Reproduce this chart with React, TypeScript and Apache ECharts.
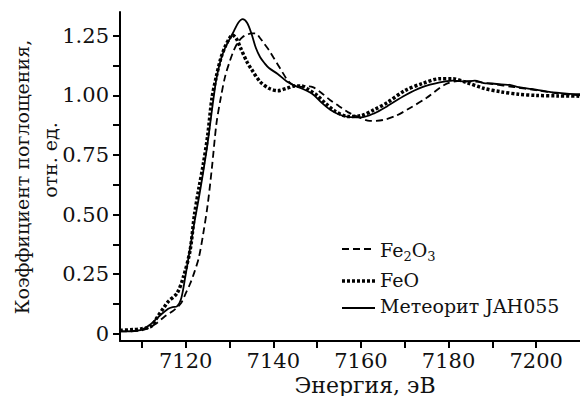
import React, { useEffect, useRef } from "react";
import * as echarts from "echarts";

// Energy (eV) and absorption values
const meteoriteEnergy = [7105, 7108, 7110, 7112, 7114, 7116, 7117, 7118, 7119, 7120, 7121, 7122, 7123, 7124, 7125, 7126, 7127, 7128, 7129, 7130, 7131, 7132, 7133, 7134, 7135, 7136, 7137, 7138, 7139, 7141, 7143, 7145, 7147, 7149, 7151, 7153, 7155, 7157, 7160, 7163, 7166, 7170, 7174, 7178, 7181, 7184, 7186, 7188, 7190, 7192, 7194, 7196, 7199, 7203, 7207, 7210];
const meteoriteValues = [0.010, 0.012, 0.018, 0.04, 0.075, 0.105, 0.112, 0.115, 0.15, 0.25, 0.36, 0.47, 0.57, 0.68, 0.80, 0.94, 1.07, 1.15, 1.20, 1.235, 1.27, 1.305, 1.32, 1.305, 1.26, 1.20, 1.16, 1.135, 1.115, 1.09, 1.06, 1.04, 1.025, 1.005, 0.97, 0.94, 0.92, 0.91, 0.908, 0.925, 0.955, 1.00, 1.035, 1.055, 1.062, 1.058, 1.062, 1.052, 1.05, 1.046, 1.044, 1.035, 1.027, 1.015, 1.008, 1.005];

const feoEnergy = [7105, 7108, 7110, 7112, 7113.5, 7115, 7116, 7118, 7119.5, 7121, 7122, 7123, 7124, 7125, 7126, 7127, 7128, 7129, 7130, 7130.6, 7131.5, 7132.5, 7134, 7135, 7137, 7139, 7141, 7143, 7145, 7146.5, 7148, 7150, 7152, 7154, 7157, 7160, 7163, 7166, 7170, 7174, 7178, 7181, 7184, 7188, 7192, 7196, 7200, 7205, 7210];
const feoValues = [0.015, 0.018, 0.022, 0.03, 0.07, 0.11, 0.135, 0.17, 0.24, 0.35, 0.50, 0.61, 0.71, 0.83, 0.99, 1.08, 1.155, 1.205, 1.24, 1.254, 1.24, 1.20, 1.14, 1.11, 1.057, 1.03, 1.02, 1.03, 1.04, 1.04, 1.025, 1.0, 0.965, 0.935, 0.912, 0.915, 0.94, 0.97, 1.02, 1.05, 1.07, 1.07, 1.055, 1.03, 1.015, 1.005, 1.0, 0.998, 0.997];

const fe2o3Energy = [7105, 7110, 7113, 7115, 7117, 7118, 7119, 7120, 7121, 7122, 7123, 7124, 7125, 7126, 7127, 7128, 7129, 7130, 7131, 7132, 7133, 7134, 7135, 7136, 7137, 7138, 7139, 7140, 7141, 7142, 7143, 7144, 7145, 7146, 7147.5, 7149, 7151, 7153, 7155, 7157, 7160, 7162, 7165, 7168, 7171, 7175, 7179, 7182, 7186, 7190, 7195, 7200, 7205, 7210];
const fe2o3Values = [0.01, 0.015, 0.04, 0.07, 0.095, 0.11, 0.13, 0.17, 0.21, 0.26, 0.32, 0.42, 0.54, 0.70, 0.88, 0.99, 1.08, 1.14, 1.19, 1.225, 1.245, 1.255, 1.26, 1.26, 1.24, 1.215, 1.19, 1.16, 1.13, 1.10, 1.07, 1.05, 1.04, 1.036, 1.038, 1.035, 1.01, 0.98, 0.955, 0.93, 0.905, 0.893, 0.897, 0.915, 0.945, 0.99, 1.044, 1.06, 1.058, 1.048, 1.035, 1.022, 1.008, 1.0];

const xTickValues = [7110, 7120, 7130, 7140, 7150, 7160, 7170, 7180, 7190, 7200];
const xLabelValues = [7120, 7140, 7160, 7180, 7200];
const yTickValues = [0, 0.125, 0.25, 0.375, 0.5, 0.625, 0.75, 0.875, 1.0, 1.125, 1.25];
const yLabelValues = [0, 0.25, 0.5, 0.75, 1.0, 1.25];

const seriesNames = ["Fe2O3", "FeO", "Метеорит JAH055"];

const FONT = "DejaVu Serif";
const INK = "#111";

function pairs(xs: number[], ys: number[]) {
  return xs.map((x, i) => [x, ys[i]]);
}

export default function App() {
  const ref = useRef<HTMLDivElement>(null);
  useEffect(() => {
    if (!ref.current) return;
    const chart = echarts.init(ref.current, undefined, { renderer: "svg" });
    const axisCommon = {
      axisLine: { show: true, onZero: false, lineStyle: { color: "#000", width: 2 } },
      axisTick: { show: true, inside: false, length: 7, lineStyle: { color: "#000", width: 2 } },
      splitLine: { show: false },
    };
    chart.setOption({
      animation: false,
      textStyle: { fontFamily: FONT },
      grid: { left: 120, right: 0, top: 12, bottom: 55, containLabel: false },
      xAxis: {
        type: "value",
        min: 7105,
        max: 7210,
        ...axisCommon,
        axisTick: { ...axisCommon.axisTick, customValues: xTickValues },
        axisLabel: {
          customValues: xLabelValues,
          fontFamily: FONT,
          fontSize: 21,
          lineHeight: 20,
          color: INK,
          margin: 10,
          formatter: (v: number) => String(v),
        },
      },
      yAxis: {
        type: "value",
        min: -0.03,
        max: 1.35,
        ...axisCommon,
        axisTick: { ...axisCommon.axisTick, customValues: yTickValues },
        axisLabel: {
          customValues: yLabelValues,
          fontFamily: FONT,
          fontSize: 21,
          color: INK,
          margin: 11,
          formatter: (v: number) => (v === 0 ? "0" : v.toFixed(2)),
        },
      },
      series: [
        {
          name: seriesNames[0],
          type: "line",
          data: pairs(fe2o3Energy, fe2o3Values),
          showSymbol: false,
          symbol: "none",
          smooth: 0.3,
          lineStyle: { color: "#000", width: 1.8, type: [7, 4] },
        },
        {
          name: seriesNames[1],
          type: "line",
          data: pairs(feoEnergy, feoValues),
          showSymbol: false,
          symbol: "none",
          smooth: 0.3,
          lineStyle: { color: "#000", width: 3.5, type: [3, 2] },
        },
        {
          name: seriesNames[2],
          type: "line",
          data: pairs(meteoriteEnergy, meteoriteValues),
          showSymbol: false,
          symbol: "none",
          smooth: 0.3,
          lineStyle: { color: "#000", width: 1.8, type: "solid" },
        },
      ],
      graphic: [
        {
          type: "text",
          x: 22,
          y: 177,
          rotation: Math.PI / 2,
          style: {
            text: "Коэффициент поглощения,",
            fontFamily: FONT,
            fontSize: 19,
            fill: INK,
            textAlign: "center",
            textVerticalAlign: "middle",
          },
        },
        {
          type: "text",
          x: 50,
          y: 160,
          rotation: Math.PI / 2,
          style: {
            text: "отн. ед.",
            fontFamily: FONT,
            fontSize: 19,
            fill: INK,
            textAlign: "center",
            textVerticalAlign: "middle",
          },
        },
        {
          type: "text",
          x: 365,
          y: 385,
          style: {
            text: "Энергия, эВ",
            fontFamily: FONT,
            fontSize: 22,
            lineHeight: 20,
            fill: INK,
            textAlign: "center",
            textVerticalAlign: "middle",
          },
        },
        // legend
        {
          type: "line",
          shape: { x1: 342, y1: 249, x2: 375, y2: 249 },
          style: { stroke: "#000", lineWidth: 1.8, lineDash: [7, 4] },
        },
        {
          type: "text",
          x: 380,
          y: 250,
          style: {
            text: "{a|Fe}{s|2}{a|O}{s|3}",
            textVerticalAlign: "middle",
            fill: INK,
            rich: {
              a: { fontFamily: FONT, fontSize: 19, lineHeight: 26, color: INK },
              s: { fontFamily: FONT, fontSize: 13, lineHeight: 13, verticalAlign: "bottom", color: INK },
            },
          },
        },
        {
          type: "line",
          shape: { x1: 342, y1: 281, x2: 375, y2: 281 },
          style: { stroke: "#000", lineWidth: 3.5, lineDash: [3, 2] },
        },
        {
          type: "text",
          x: 380,
          y: 280,
          style: {
            text: seriesNames[1],
            fontFamily: FONT,
            fontSize: 19,
            fill: INK,
            textVerticalAlign: "middle",
          },
        },
        {
          type: "line",
          shape: { x1: 342, y1: 308, x2: 375, y2: 308 },
          style: { stroke: "#000", lineWidth: 1.8 },
        },
        {
          type: "text",
          x: 380,
          y: 306,
          style: {
            text: seriesNames[2],
            fontFamily: FONT,
            fontSize: 19,
            fill: INK,
            textVerticalAlign: "middle",
          },
        },
      ],
    });
    return () => chart.dispose();
  }, []);
  return (
    <div
      ref={ref}
      style={{ position: "fixed", left: 0, top: 0, width: 580, height: 396, background: "#fff" }}
    />
  );
}
